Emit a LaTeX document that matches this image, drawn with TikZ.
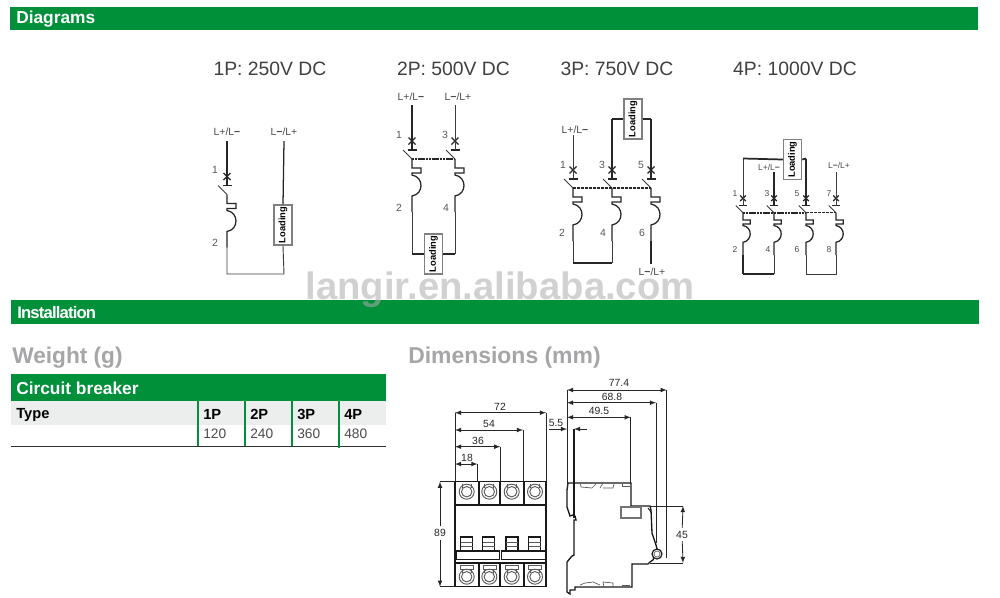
\documentclass[tikz,border=0pt]{standalone}
\usepackage{fontspec}
\setmainfont{Liberation Sans}
\usetikzlibrary{arrows}
\definecolor{bargreen}{RGB}{0,144,58}
\definecolor{rowgray}{RGB}{236,237,237}
\definecolor{headgray}{RGB}{166,166,168}
\definecolor{inkgray}{RGB}{60,60,60}
\tikzset{
  wire/.style={draw=inkgray,line width=.7pt},
  thickwire/.style={draw=black!85,line width=1.3pt},
  midwire/.style={draw=black!85,line width=.95pt},
  barhead/.style={anchor=west,text=white,font=\bfseries\fontsize{13}{13}\selectfont,inner sep=0pt},
  title/.style={anchor=center,text=black!75,font=\fontsize{14.5}{14.5}\selectfont,inner sep=0pt},
  linelabel/.style={text=black!70,font=\fontsize{7.8}{7.8}\selectfont,inner sep=0pt},
  smalllabel/.style={text=black!70,font=\fontsize{6.4}{6.4}\selectfont,inner sep=0pt},
  numlabel/.style={text=black!65,font=\fontsize{7.8}{7.8}\selectfont,inner sep=0pt},
  loadbox/.style={draw=black!50,fill=white,line width=1.1pt,minimum width=13.5pt,minimum height=30pt,inner sep=0pt},
  loadtext/.style={text=black,font=\bfseries\fontsize{6.6}{6.6}\selectfont,inner sep=0pt},
  dimlabel/.style={text=black!85,font=\fontsize{7.8}{7.8}\selectfont,inner sep=0pt},
  dimline/.style={draw=black!85,line width=.6pt},
  outline/.style={draw=black!90,line width=1pt},
  detail/.style={draw=black!65,line width=.5pt},
  pics/pole/.style={code={
    \draw[midwire] (-3.5,-12.5) -- (3.5,-5.5) (-3.5,-5.5) -- (3.5,-12.5);
    \draw[thickwire] (-4.5,0) -- (4.5,0);
    \draw[wire] (-9,0) -- (0,9);
    \draw[midwire] (0,9) -- (0,18) -- (9,18) -- (9,23) -- (0,23) -- (0,25)
      .. controls (12,27) and (12,44) .. (0,46) -- (0,62);
    \coordinate (-top) at (0,0);
    \coordinate (-lnk) at (0,9);
    \coordinate (-bot) at (0,62);
  }},
  pics/terminal/.style={code={
    \draw[detail,line width=.7pt] (0,0) circle (7.5);
    \draw[detail,line width=.7pt] (0,0) circle (5.2);
    \draw[detail] (-4.5,-8) -- (-4.5,-4) (4.5,-8) -- (4.5,-4);
  }},
  pics/handle/.style={code={
    \draw[outline,line width=.8pt] (-6,13) -- (-6,0) -- (6,0) -- (6,13);
    \draw[detail] (-6,5) -- (6,5);
    \draw[detail] (-6,9) -- (6,9);
  }},
}
\newcommand{\linkbar}[2]{\draw[black!85,line width=1.5pt,dash pattern=on 1.6pt off .5pt] (#1) -- (#2);}
\begin{document}
\begin{tikzpicture}[x=.75pt,y=-.75pt,>=latex]
\useasboundingbox (0,0) rectangle (1000,597);
\fill[white] (0,0) rectangle (1000,597);

% header bars
\fill[bargreen] (10,7) rectangle (978,30);
\node[barhead] (diagrams) at (16,19) {Diagrams};
\fill[bargreen] (11,300) rectangle (979,324);
\node[barhead,font=\bfseries\fontsize{12.5}{12.5}\selectfont\addfontfeature{LetterSpace=-5}] (install) at (17,313) {Installation};

\node[title] (t1) at (270,68.5) {1P: 250V DC};
\node[title] (t2) at (453.5,68.5) {2P: 500V DC};
\node[title] (t3) at (617,68.5) {3P: 750V DC};
\node[title] (t4) at (795,68.5) {4P: 1000V DC};

% 1P
\pic (a1) at (227,185.5) {pole};
\node[linelabel] (a1in) at (227,132) {L+/L\textbf{−}};
\node[linelabel] (a1out) at (284,132) {L\textbf{−}/L+};
\coordinate (a1t) at (227,141);
\coordinate (a2t) at (284,141);
\coordinate (a1c) at (227,274);
\coordinate (a2c) at (284,274);
\node[loadbox] (a1load) at (283,225) {\rotatebox{90}{\fontsize{7}{7}\selectfont\bfseries Loading}};
\node[numlabel] (a1n1) at (215,170) {1};
\node[numlabel] (a1n2) at (215,243) {2};
\draw[midwire] (a1t) -- (a1-top);
\draw[wire] (a1-bot) -- (a1c) -- (a2c) -- (a1load.south);
\draw[midwire] (a1load.north) -- (a2t);

% 2P
\pic (b1) at (412,150) {pole};
\pic (b2) at (455,150) {pole};
\node[linelabel] (b1in) at (411,97) {L+/L\textbf{−}};
\node[linelabel] (b2in) at (458,97) {L\textbf{−}/L+};
\coordinate (b1t) at (412,105);
\coordinate (b2t) at (455,105);
\node[loadbox] (b1load) at (433.5,254) {\rotatebox{90}{\fontsize{7}{7}\selectfont\bfseries Loading}};
\coordinate (b1c) at (412,254);
\coordinate (b2c) at (455,254);
\node[numlabel] (b1n1) at (399,135) {1};
\node[numlabel] (b1n3) at (445,135) {3};
\node[numlabel] (b1n2) at (399,208) {2};
\node[numlabel] (b1n4) at (446,208) {4};
\draw[midwire] (b1t) -- (b1-top);
\draw[wire] (b2t) -- (b2-top);
\linkbar{b1-lnk}{b2-lnk}
\draw[wire] (b1-bot) -- (b1c);
\draw[wire] (b2-bot) -- (b2c);
\draw[thickwire] (b1c) -- (b1load.west);
\draw[thickwire] (b1load.east) -- (b2c);

% 3P
\pic (c1) at (573,179) {pole};
\pic (c2) at (612,179) {pole};
\pic (c3) at (651,179) {pole};
\node[linelabel] (c1in) at (575,130) {L+/L\textbf{−}};
\node[linelabel] (c3out) at (652,272) {L\textbf{−}/L+};
\coordinate (c1t) at (573,135);
\coordinate (c2t) at (612,119);
\coordinate (c3t) at (651,119);
\coordinate (c1c) at (573,263);
\coordinate (c2c) at (612,263);
\coordinate (c3c) at (651,264);
\node[loadbox] (c1load) at (633,119) {\rotatebox{90}{\fontsize{7}{7}\selectfont\bfseries Loading}};
\node[numlabel] (c1n1) at (563,165) {1};
\node[numlabel] (c1n3) at (602,165) {3};
\node[numlabel] (c1n5) at (641,165) {5};
\node[numlabel] (c1n2) at (562,233) {2};
\node[numlabel] (c1n4) at (603,233) {4};
\node[numlabel] (c1n6) at (642,233) {6};
\draw[wire] (c1t) -- (c1-top);
\draw[midwire] (c2-top) -- (c2t);
\draw[thickwire] (c2t) -- (c1load.west);
\draw[thickwire] (c1load.east) -- (c3t);
\draw[midwire] (c3t) -- (c3-top);
\draw[black!85,line width=1pt,dash pattern=on 2pt off 1pt] (c1-lnk) -- (c3-lnk);
\draw[wire] (c1-bot) -- (c1c);
\draw[wire] (c2-bot) -- (c2c);
\draw[thickwire] (c1c) -- (c2c);
\draw[midwire] (c3-bot) -- (c3c);

% 4P
\pic[scale=.8] (d1) at (743,205.5) {pole};
\pic[scale=.8] (d2) at (774,205.5) {pole};
\pic[scale=.8] (d3) at (806,205.5) {pole};
\pic[scale=.8] (d4) at (836,205.5) {pole};
\node[smalllabel] (d2in) at (769,167) {L+/L\textbf{−}};
\node[smalllabel] (d4in) at (839,165) {L\textbf{−}/L+};
\coordinate (d1t) at (743,158.5);
\coordinate (d2t) at (774,172);
\coordinate (d3t) at (806,158.5);
\coordinate (d4t) at (836,172);
\coordinate (d1c) at (743,274);
\coordinate (d2c) at (774,274);
\coordinate (d3c) at (806,274);
\coordinate (d4c) at (836,274);
\node[loadbox] (d1load) at (792.5,159.5) {\rotatebox{90}{\fontsize{7}{7}\selectfont\bfseries Loading}};
\node[smalllabel] (d1n1) at (735,194) {1};
\node[smalllabel] (d1n3) at (767,194) {3};
\node[smalllabel] (d1n5) at (797,194) {5};
\node[smalllabel] (d1n7) at (829,194) {7};
\node[smalllabel] (d1n2) at (735,250) {2};
\node[smalllabel] (d1n4) at (768,250) {4};
\node[smalllabel] (d1n6) at (797,250) {6};
\node[smalllabel] (d1n8) at (829,250) {8};
\draw[wire] (d1-top) -- (d1t);
\draw[thickwire] (d1t) -- (d1load.west);
\draw[thickwire] (d1load.east) -- (d3t);
\draw[midwire] (d3t) -- (d3-top);
\draw[midwire] (d2t) -- (d2-top);
\draw[wire] (d4t) -- (d4-top);
\linkbar{d1-lnk}{d3-lnk}
\draw[black!85,line width=1pt,dash pattern=on 2pt off 1pt] (d3-lnk) -- (d4-lnk);
\draw[midwire] (d1-bot) -- (d1c);
\draw[wire] (d2-bot) -- (d2c);
\draw[thickwire] (d1c) -- (d2c);
\draw[wire] (d3-bot) -- (d3c) -- (d4c) -- (d4-bot);

% weight table
\node[anchor=west,text=headgray,font=\bfseries\fontsize{17}{17}\selectfont,inner sep=0pt] (weight) at (12,358) {Weight (g)};
\node[anchor=west,text=headgray,font=\bfseries\fontsize{17.2}{17.2}\selectfont,inner sep=0pt] (dims) at (408,358) {Dimensions (mm)};
\fill[bargreen] (11,374) rectangle (386,400.5);
\fill[rowgray] (11,400.5) rectangle (386,425);
\node[barhead] (breaker) at (16,388.5) {Circuit breaker};
\tikzset{cellhead/.style={anchor=west,text=black,font=\bfseries\fontsize{11}{11}\selectfont,inner sep=0pt},
  cell/.style={anchor=west,text=black!70,font=\fontsize{10.3}{10.3}\selectfont,inner sep=0pt}}
\node[cellhead] (type) at (16,414.5) {Type};
\node[cellhead] (p1) at (203,414) {1P};
\node[cellhead] (p2) at (250,414) {2P};
\node[cellhead] (p3) at (297,414) {3P};
\node[cellhead] (p4) at (344,414) {4P};
\node[cell] (w1) at (203,434) {120};
\node[cell] (w2) at (250,434) {240};
\node[cell] (w3) at (297,434) {360};
\node[cell] (w4) at (344,434) {480};
\draw[black!80,line width=.6pt] (11,446.7) -- (386,446.7);
\draw[bargreen,line width=1pt] (198,400.5) -- (198,446);
\draw[bargreen,line width=1pt] (245,400.5) -- (245,446);
\draw[bargreen,line width=1pt] (292,400.5) -- (292,446);
\draw[bargreen,line width=1pt] (339,400.5) -- (339,447.5);

% front view
\draw[outline] (455,481.7) rectangle (546,586.7);
\draw[outline,line width=.8pt] (455,505) -- (546,505);
\draw[outline] (479,481.7) -- (479,505) (500,481.7) -- (500,505) (524,481.7) -- (524,505);
\draw[outline] (479,563) -- (479,586.7) (500,563) -- (500,586.7) (524,563) -- (524,586.7);
\pic at (466.7,491.7) {terminal};
\pic at (489.3,491.7) {terminal};
\pic at (511.7,491.7) {terminal};
\pic at (535,491.7) {terminal};
\pic at (466.7,576.7) {terminal};
\pic at (489.3,576.7) {terminal};
\pic at (511.7,576.7) {terminal};
\pic at (535,576.7) {terminal};
\pic at (466.5,537) {handle};
\pic at (488.5,537) {handle};
\pic at (512,537) {handle};
\pic at (534.5,537) {handle};
\draw[outline] (456,551) rectangle (499.5,559.5);
\draw[outline] (501.5,551) rectangle (545.5,559.5);
\draw[outline,line width=.8pt] (455,563) -- (546,563);
\draw[detail] (460,565) rectangle (473,569) (483,565) rectangle (496,569) (505,565) rectangle (518,569) (528,565) rectangle (541,569);

\coordinate (f0a) at (455,412.7);
\coordinate (f0b) at (455,430);
\coordinate (f0c) at (455,446.7);
\coordinate (f0d) at (455,464);
\coordinate (f72) at (546,412.7);
\coordinate (f54) at (523,430);
\coordinate (f36) at (500.3,446.7);
\coordinate (f18) at (477.5,464);
\draw[dimline] (f0a) -- (455,481.7);
\draw[dimline] (f72) -- (546,481.7);
\draw[dimline] (f54) -- (523,481.7);
\draw[dimline] (f36) -- (500.3,481.7);
\draw[dimline] (f18) -- (477.5,481.7);
\draw[dimline,<->] (f0a) -- (f72);
\draw[dimline,<->] (f0b) -- (f54);
\draw[dimline,<->] (f0c) -- (f36);
\draw[dimline,<->] (f0d) -- (f18);
\node[dimlabel] (l72) at (500,407) {72};
\node[dimlabel] (l54) at (489,424) {54};
\node[dimlabel] (l36) at (478,441) {36};
\node[dimlabel] (l18) at (467,458) {18};
\coordinate (h0) at (440,481.7);
\coordinate (h1) at (440,586.7);
\draw[dimline] (h0) -- (455,481.7);
\draw[dimline] (h1) -- (455,586.7);
\node[dimlabel,fill=white,inner ysep=2pt] (l89) at (440,533) {89};
\draw[dimline,->] (l89) -- (h0);
\draw[dimline,->] (l89) -- (h1);

% side view
\draw[outline,fill=white] (568,483) -- (631,483) -- (631,506) -- (650,506) -- (651,510) -- (652,533)
  -- (656,545) -- (657,549) -- (653,560) -- (650,562) -- (648,564) -- (632,564) -- (632,587) -- (575,587)
  -- (575,590) -- (570,590) -- (570,594) -- (567,592) -- (567,562) -- (572,556) -- (574,555) -- (574,520)
  -- (576,520) -- (575,516) -- (573,515) -- (570,516) -- (567,507) -- (567,490) -- cycle;
\draw[outline,line width=1.1pt] (574,429) -- (574,518);
\draw[detail] (580.5,484) -- (581,487) -- (592,488) -- (596,484) (600,488) -- (603,483) (603,488) -- (613,488) -- (614,484);
\draw[detail] (622,484) -- (622,486) -- (630,486);
\draw[detail] (580,585) -- (585,583) -- (593,582) -- (600,585) (604,587) -- (603,582) -- (613,583) -- (613,587);
\draw[detail] (622,585) -- (630,585);
\draw[detail,draw=black!55,line width=.8pt] (621,507) rectangle (641,518);
\draw[outline,fill=white,line width=.9pt] (657,554) circle (5);
\draw[detail] (657,554) circle (3);
\draw[outline,line width=.7pt] (648,508) -- (651,512);
\coordinate (s0a) at (567,390);
\coordinate (s0b) at (567,402.7);
\coordinate (s0c) at (567,417.3);
\coordinate (s774) at (666.7,390);
\coordinate (s688) at (656,402.7);
\coordinate (s495) at (630.7,417.3);
\coordinate (s55a) at (549,429);
\coordinate (s55b) at (567,429);
\coordinate (s55c) at (574,429);
\coordinate (s55d) at (587,429);
\draw[dimline] (s0a) -- (567,490);
\draw[dimline] (s774) -- (666.7,558);
\draw[dimline] (s688) -- (656,543);
\draw[dimline] (s495) -- (630.7,483);
\draw[dimline,<->] (s0a) -- (s774);
\draw[dimline,<->] (s0b) -- (s688);
\draw[dimline,<->] (s0c) -- (s495);
\draw[dimline,->] (s55a) -- (s55b);
\draw[dimline,->] (s55d) -- (s55c);
\node[dimlabel] (l774) at (619,383) {77.4};
\node[dimlabel] (l688) at (612,397) {68.8};
\node[dimlabel] (l495) at (599,411) {49.5};
\node[dimlabel] (l55) at (556,423) {5.5};
\coordinate (v0) at (683,506);
\coordinate (v1) at (683,563);
\draw[dimline] (651,506) -- (v0);
\draw[dimline] (650,563) -- (v1);
\node[dimlabel,fill=white,inner ysep=2pt] (l45) at (682,534.5) {45};
\draw[dimline,->] (l45) -- (v0);
\draw[dimline,->] (l45) -- (v1);

% watermark
\node[text=black!32,opacity=.55,font=\bfseries\fontsize{28.7}{28.7}\selectfont,inner sep=0pt,anchor=base] (mark) at (500,299) {langir.en.alibaba.com};
\end{tikzpicture}
\end{document}
